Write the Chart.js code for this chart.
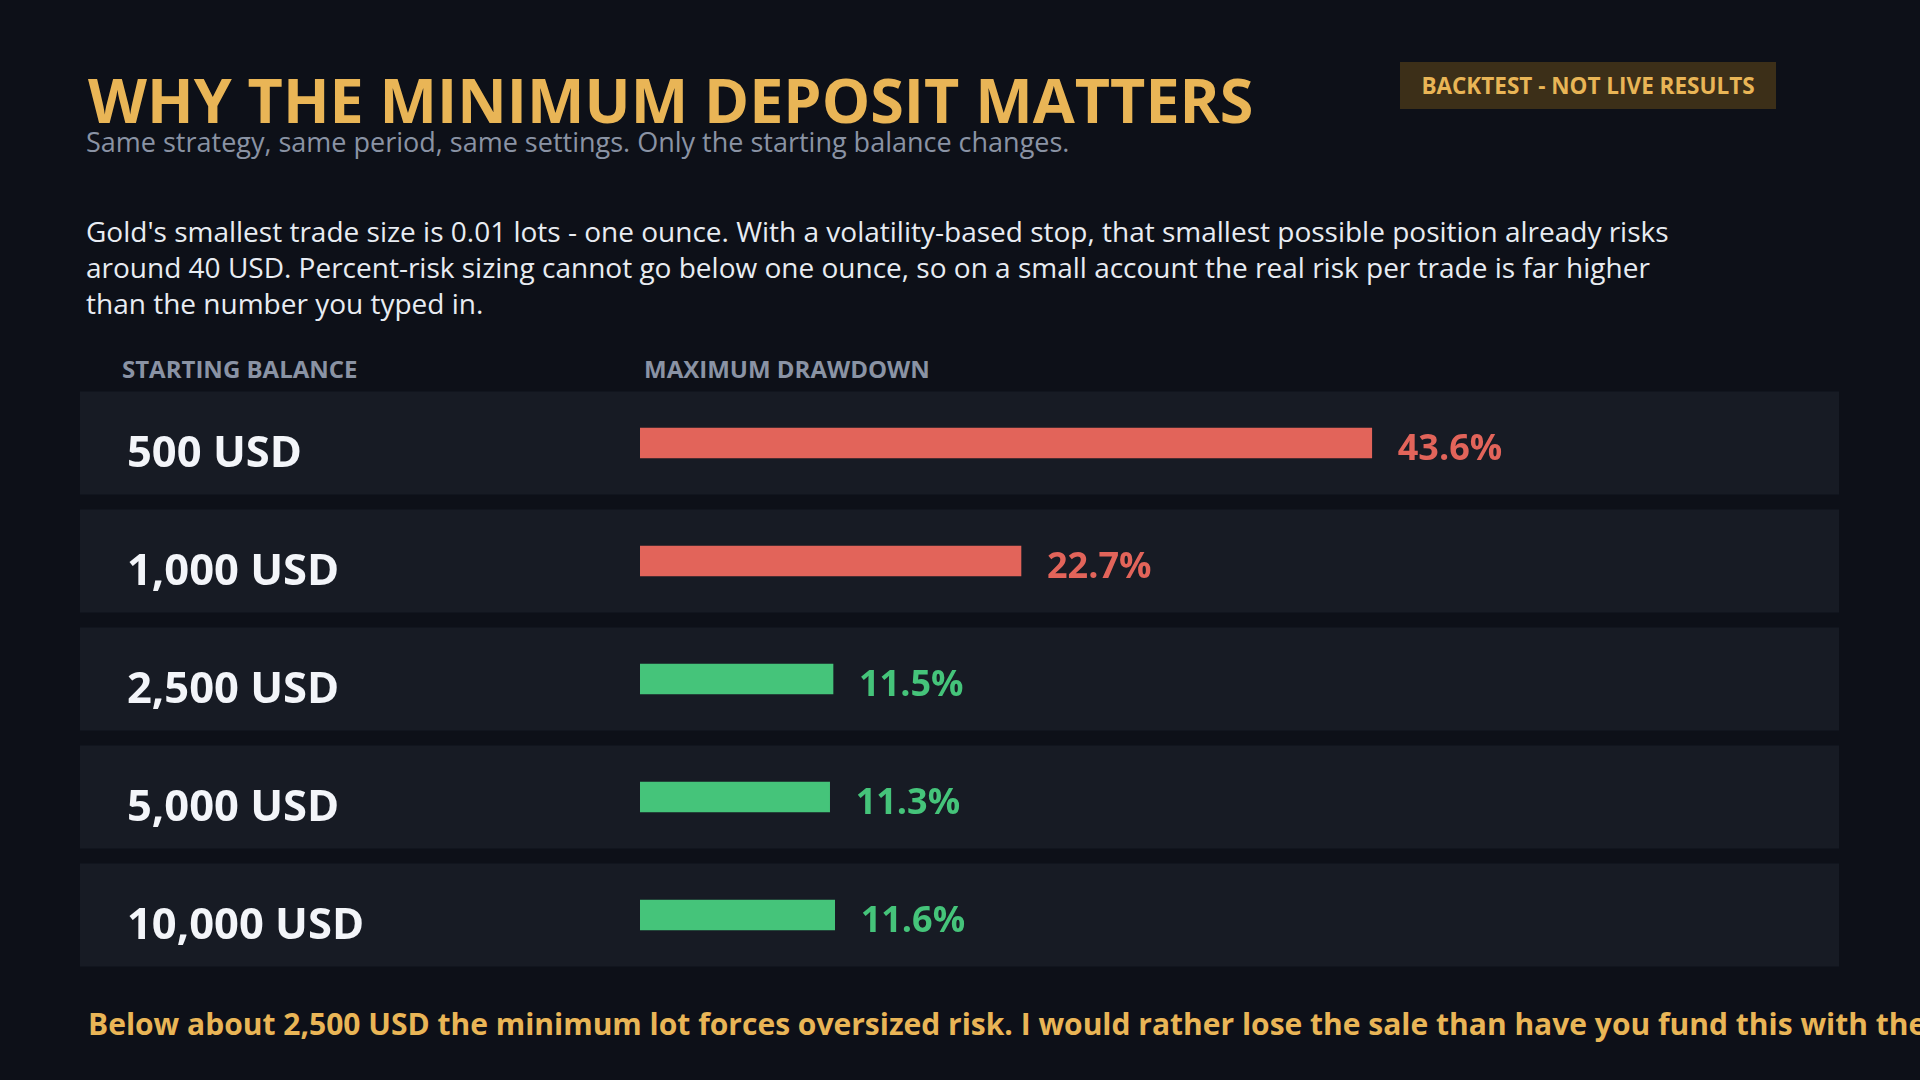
<!DOCTYPE html>
<html>
<head>
<meta charset="utf-8">
<script src="https://cdn.jsdelivr.net/npm/chart.js@4.4.1/dist/chart.umd.min.js"></script>
<style>
  html, body { margin: 0; padding: 0; }
  body {
    width: 1920px; height: 1080px; overflow: hidden;
    background: #0d1018; position: relative;
    font-family: "Open Sans", "Noto Sans", sans-serif;
  }
  .abs { position: absolute; white-space: nowrap; }
  #title { left: 88px; top: 69px; font-size: 61px; line-height: 61px; font-weight: 700; color: #e9b556; }
  #subtitle { left: 86px; top: 128px; font-size: 27px; line-height: 27px; color: #8a93a4; }
  #intro { left: 86px; top: 213px; font-size: 28px; line-height: 36px; color: #e8ecf2; }
  #badge {
    left: 1400px; top: 62px; width: 376px; height: 47px;
    background: #3c2f18; color: #e9b556; font-weight: 700; font-size: 22.5px;
    display: flex; align-items: center; justify-content: center;
  }
  .colhead { top: 357px; font-size: 24px; line-height: 24px; font-weight: 700; color: #8a93a4; }
  #footer { left: 88px; top: 1008px; font-size: 30px; line-height: 31px; font-weight: 700; color: #e9b556; }
  #chartBox { position: absolute; left: 80px; top: 384px; width: 1759px; height: 590px; }
</style>
</head>
<body>
<div id="title" class="abs">WHY THE MINIMUM DEPOSIT MATTERS</div>
<div id="subtitle" class="abs">Same strategy, same period, same settings. Only the starting balance changes.</div>
<div id="badge" class="abs">BACKTEST - NOT LIVE RESULTS</div>
<div id="intro" class="abs">Gold's smallest trade size is 0.01 lots - one ounce. With a volatility-based stop, that smallest possible position already risks<br>around 40 USD. Percent-risk sizing cannot go below one ounce, so on a small account the real risk per trade is far higher<br>than the number you typed in.</div>
<div class="abs colhead" style="left:122px">STARTING BALANCE</div>
<div class="abs colhead" style="left:644px">MAXIMUM DRAWDOWN</div>
<div id="chartBox"><canvas id="bars"></canvas></div>
<div id="footer" class="abs">Below about 2,500 USD the minimum lot forces oversized risk. I would rather lose the sale than have you fund this with the minimum.</div>

<script>
const balances = ['500 USD', '1,000 USD', '2,500 USD', '5,000 USD', '10,000 USD'];
const drawdowns = [43.6, 22.7, 11.5, 11.3, 11.6];
const riskLimit = 20;

const colourFor = v => v > riskLimit ? '#e2645a' : '#45c47a';

// row panels behind the bars, and the value text after each bar
const rowPlugin = {
  id: 'rows',
  beforeDraw(chart) {
    const ctx = chart.ctx;
    const y = chart.scales.y;
    ctx.save();
    ctx.fillStyle = '#171b24';
    balances.forEach((b, i) => {
      const cy = y.getPixelForValue(i);
      ctx.fillRect(0, cy - 51.5, chart.width, 103);
    });
    ctx.restore();
  },
  afterDatasetsDraw(chart) {
    const ctx = chart.ctx;
    ctx.save();
    ctx.font = 'bold 36px "Open Sans"';
    ctx.textBaseline = 'middle';
    chart.getDatasetMeta(0).data.forEach((bar, i) => {
      ctx.fillStyle = colourFor(drawdowns[i]);
      ctx.fillText(drawdowns[i].toFixed(1) + '%', bar.x + 26, bar.y + 7);
    });
    ctx.restore();
  }
};

new Chart(document.getElementById('bars'), {
  type: 'bar',
  data: {
    labels: balances,
    datasets: [{
      data: drawdowns,
      backgroundColor: drawdowns.map(colourFor),
      barThickness: 30
    }]
  },
  options: {
    indexAxis: 'y',
    responsive: true,
    maintainAspectRatio: false,
    animation: false,
    layout: { padding: { left: 47, right: 192, top: 0, bottom: 0 } },
    plugins: { legend: { display: false }, tooltip: { enabled: false } },
    scales: {
      x: { display: false, min: 0, max: 60 },
      y: {
        grid: { display: false },
        border: { display: false },
        ticks: {
          crossAlign: 'far',
          padding: -40, // keep the big labels from shrinking the rows
          labelOffset: 12,
          color: '#f3f5f9',
          font: { family: 'Open Sans', size: 43.5, weight: 'bold' }
        },
        afterFit(scale) { scale.width = 513; }
      }
    }
  },
  plugins: [rowPlugin]
});
</script>
</body>
</html>
